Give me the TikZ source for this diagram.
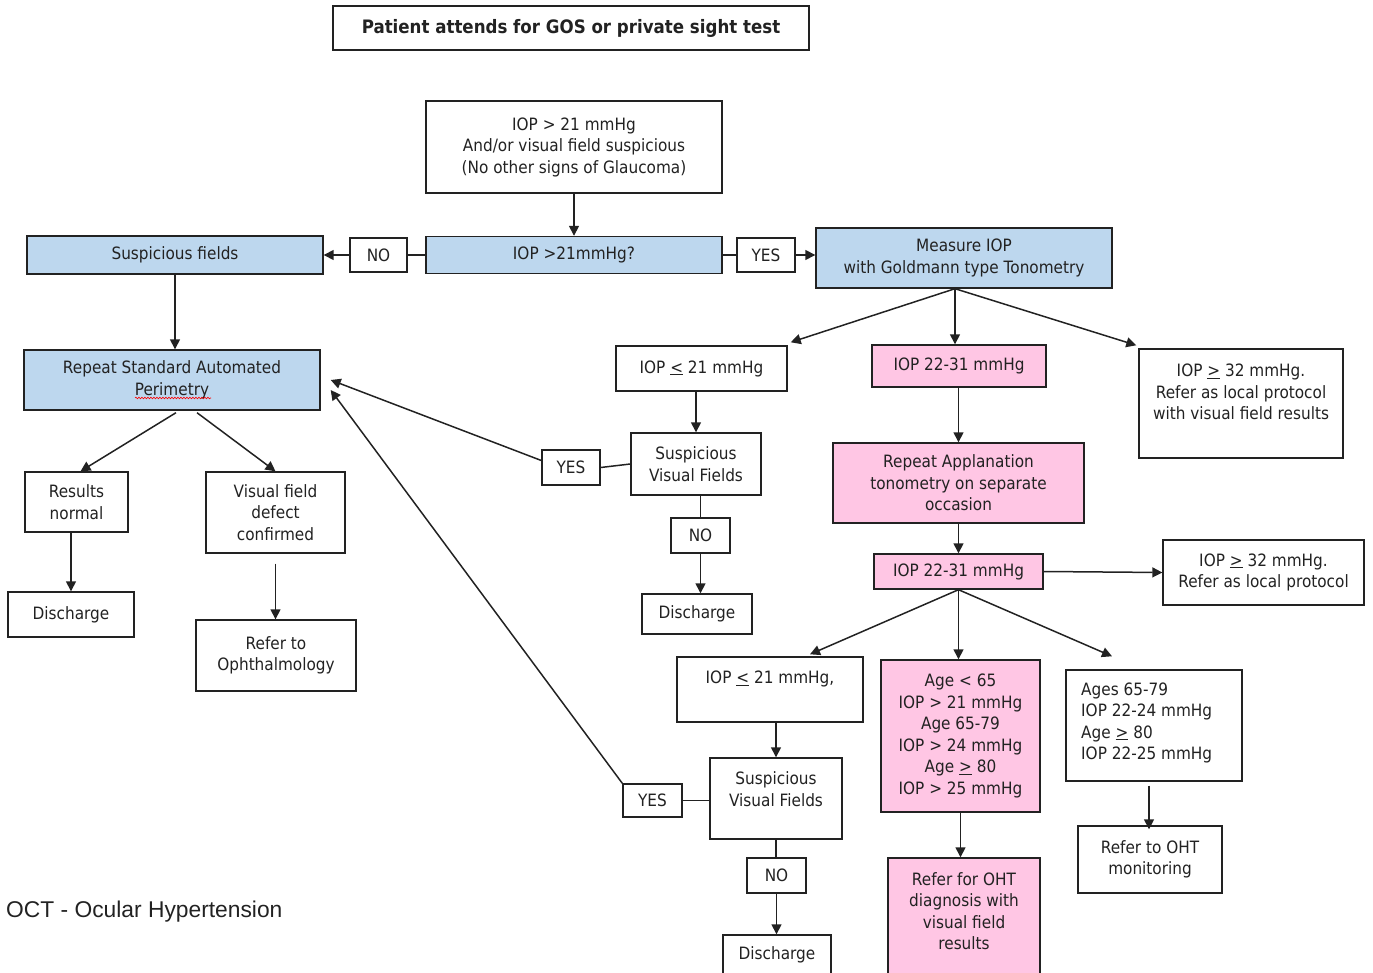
\documentclass[tikz,border=0pt]{standalone}
\usepackage{fontspec}
\setmainfont{DejaVu Sans}[FakeStretch=0.9]
\newfontfamily\capfont{Liberation Sans}
\usetikzlibrary{arrows.meta,decorations.pathmorphing}
\definecolor{bluefill}{HTML}{BDD7EE}
\definecolor{pinkfill}{HTML}{FFC6E4}
\definecolor{ink}{HTML}{222222}
\begin{document}
\begin{tikzpicture}[x=1pt,y=-1pt,
  font=\fontsize{17}{21.5}\selectfont,
  box/.style={draw=ink, line width=1.4pt, fill=white, inner sep=2pt, align=center, text=ink},
  bluebox/.style={box, fill=bluefill},
  pinkbox/.style={box, fill=pinkfill},
  txt/.style={inner sep=0pt, align=center, text=ink},
  conn/.style={draw=ink, line width=1.5pt},
  arr/.style={conn, -{Triangle[length=10pt,width=10pt]}}]
\useasboundingbox (0,0) rectangle (1373,973);
\clip (0,0) rectangle (1373,973);

% boxes
\node[box, minimum width=476pt, minimum height=44pt, font=\fontsize{18.5}{22}\selectfont\bfseries] (title) at (571,28) {Patient attends for GOS or private sight test};
\node[box, minimum width=296pt, minimum height=92pt] (iop1) at (574,147) {IOP > 21 mmHg\\And/or visual field suspicious\\(No other signs of Glaucoma)};
\node[bluebox, minimum width=296pt, minimum height=37pt] (q) at (574,255) {IOP >21mmHg?};
\node[bluebox, minimum width=296pt, minimum height=38pt] (susp) at (175,255) {Suspicious fields};
\node[box, minimum width=57pt, minimum height=34pt] (no1) at (378.5,255) {NO};
\node[box, minimum width=58pt, minimum height=34pt] (yes1) at (766,255) {YES};
\node[bluebox, minimum width=296pt, minimum height=60pt] (meas) at (964,258) {Measure IOP\\with Goldmann type Tonometry};
\node[bluebox, minimum width=296pt, minimum height=60pt] (sap) at (172,380) {Repeat Standard Automated\\Perimetry};
\node[box, minimum width=171pt, minimum height=45pt] (iople) at (701.5,368.5) {IOP \underline{<} 21 mmHg};
\node[pinkbox, minimum width=174pt, minimum height=42pt] (iopa) at (959,366) {IOP 22-31 mmHg};
\node[box, minimum width=204pt, minimum height=109pt] (refa) at (1241,403.5) {};
\node[txt] (refat) at (1241,392) {IOP \underline{>} 32 mmHg.\\Refer as local protocol\\with visual field results};
\node[box, minimum width=58pt, minimum height=35pt] (yes2) at (571,467.5) {YES};
\node[box, minimum width=130pt, minimum height=62pt] (svfa) at (696,464) {Suspicious\\Visual Fields};
\node[box, minimum width=59pt, minimum height=35pt] (no2) at (700.5,535.5) {NO};
\node[box, minimum width=110pt, minimum height=40pt] (disb) at (697,614) {Discharge};
\node[pinkbox, minimum width=251pt, minimum height=80pt] (rep) at (958.5,483) {Repeat Applanation\\tonometry on separate\\occasion};
\node[pinkbox, minimum width=169pt, minimum height=35pt] (iopb) at (958.5,571.5) {IOP 22-31 mmHg};
\node[box, minimum width=201pt, minimum height=65pt] (refb) at (1263.5,572.5) {IOP \underline{>} 32 mmHg.\\Refer as local protocol};
\node[box, minimum width=103pt, minimum height=60pt] (resn) at (76.5,502) {Results\\normal};
\node[box, minimum width=139pt, minimum height=81pt] (vfd) at (275.5,512.5) {Visual field\\defect\\confirmed};
\node[box, minimum width=126pt, minimum height=45pt] (disa) at (71,614.5) {Discharge};
\node[box, minimum width=160pt, minimum height=71pt] (oph) at (276,655.5) {Refer to\\Ophthalmology};
\node[box, minimum width=186pt, minimum height=65pt] (ioplb) at (770,689.5) {};
\node[txt] (ioplbt) at (770,679) {IOP \underline{<} 21 mmHg,};
\node[pinkbox, minimum width=159pt, minimum height=152pt] (age) at (960.5,736) {Age < 65\\IOP > 21 mmHg\\Age 65-79\\IOP > 24 mmHg\\Age \underline{>} 80\\IOP > 25 mmHg};
\node[box, minimum width=176pt, minimum height=111pt] (ages) at (1154,725.5) {};
\node[txt, anchor=west, align=left] (agest) at (1081,723) {Ages 65-79\\IOP 22-24 mmHg\\Age \underline{>} 80\\IOP 22-25 mmHg};
\node[box, minimum width=132pt, minimum height=81pt] (svfb) at (776,798.5) {};
\node[txt] (svfbt) at (776,789) {Suspicious\\Visual Fields};
\node[box, minimum width=59pt, minimum height=33pt] (yes3) at (652.5,800.5) {YES};
\node[box, minimum width=59pt, minimum height=35pt] (no3) at (776.5,875.5) {NO};
\node[box, minimum width=108pt, minimum height=40pt] (disc) at (777,955) {Discharge};
\node[pinkbox, minimum width=152pt, minimum height=120pt] (oht) at (964,918) {};
\node[txt] (ohtt) at (964,911) {Refer for OHT\\diagnosis with\\visual field\\results};
\node[box, minimum width=144pt, minimum height=67pt] (mon) at (1150,859.5) {Refer to OHT\\monitoring};
\node[anchor=base west, inner sep=0pt, font=\capfont\fontsize{22.8}{26}\selectfont, text=ink] (cap) at (6,917) {OCT - Ocular Hypertension};

% spell-check squiggle
\draw[red, line width=0.6pt, decorate, decoration={snake, amplitude=0.8pt, segment length=3pt}] (135,398) -- (211,398);

% connectors
\draw[arr] (iop1) -- (q);
\draw[conn] (q.west) -- (no1.east);
\draw[arr] (no1.west) -- (susp.east);
\draw[conn] (q.east) -- (yes1.west);
\draw[arr] (yes1.east) -- (meas.west |- yes1.east);
\draw[arr] (susp.south) -- (susp.south |- sap.north);
\coordinate (mb) at ([xshift=-9pt]meas.south);
\draw[arr] (mb) -- ([xshift=3pt,yshift=3pt]iople.north east);
\draw[arr] (mb) -- (mb |- iopa.north);
\draw[arr] (mb) -- ([xshift=-2pt,yshift=3pt]refa.north west);
\draw[arr] (svfa.north |- iople.south) -- (svfa.north);
\draw[conn] (svfa.west) -- (yes2.east);
\draw[arr] ([yshift=7pt]yes2.west) -- ([xshift=10pt]sap.east);
\draw[conn] (no2.north |- svfa.south) -- (no2.north);
\draw[arr] (no2.south) -- (no2.south |- disb.north);
\draw[arr] (iopa.south -| rep.north) -- (rep.north);
\draw[arr] (rep) -- (iopb);
\draw[arr] (iopb.east) -- (refb.west);
\draw[arr] (iopb.south) -- ([xshift=40pt,yshift=2pt]ioplb.north);
\draw[arr] (iopb.south) -- (iopb.south |- age.north);
\draw[arr] (iopb.south) -- ([xshift=-42pt,yshift=13pt]ages.north);
\draw[arr] ([xshift=4pt,yshift=-2pt]sap.south) -- ([xshift=4pt]resn.north);
\draw[arr] ([xshift=25pt,yshift=-2pt]sap.south) -- (vfd.north);
\draw[arr] (disa.north |- resn.south) -- (disa.north);
\draw[arr] ([yshift=-10pt]vfd.south) -- (vfd.south |- oph.north);
\draw[arr] (svfb.north |- ioplb.south) -- (svfb.north);
\draw[conn] ([yshift=-2pt]svfb.west) -- ([yshift=-2pt]svfb.west -| yes3.east);
\draw[arr] (yes3.north west) -- ([xshift=10pt,yshift=-10pt]sap.east);
\draw[conn] (svfb.south) -- (svfb.south |- no3.north);
\draw[arr] (no3.south) -- (no3.south |- disc.north);
\draw[arr] (age.south) -- (age.south |- oht.north);
\draw[arr] ([xshift=-5pt,yshift=-4pt]ages.south) -- ([xshift=-5pt,yshift=-4pt]ages.south |- mon.north);
\end{tikzpicture}
\end{document}
